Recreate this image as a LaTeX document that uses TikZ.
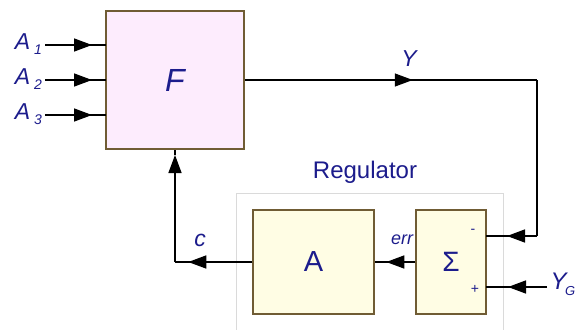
\documentclass[tikz,border=0pt]{standalone}
\usepackage{fontspec}
\setmainfont{Liberation Sans}
\usetikzlibrary{arrows.meta,decorations.markings}
\definecolor{txtblue}{RGB}{28,28,140}
\definecolor{boxedge}{RGB}{112,92,52}
\definecolor{pinkfill}{RGB}{253,236,253}
\definecolor{yellowfill}{RGB}{255,253,228}
\definecolor{regedge}{RGB}{218,218,218}
\newcommand{\fs}[1]{\fontsize{#1}{#1}\selectfont}
\tikzset{
  blockbox/.style={draw=boxedge, line width=1.5pt, inner sep=0pt, text=txtblue},
  lbl/.style={text=txtblue, inner sep=0pt},
  wire/.style={line width=1.5pt, postaction={decorate}},
  tipat/.style={decoration={markings, mark=at position #1 with {\arrow{Triangle[length=18pt,width=13pt]}}}},
}
\begin{document}
\begin{tikzpicture}[x=1pt,y=-1pt]
\useasboundingbox (0,0) rectangle (575,329);
\fill[white] (0,0) rectangle (575,329);

% regulator frame
\draw[regedge, line width=1pt] (236,345) -- (236,193) -- (503,193) -- (503,345);
\node[lbl, font=\fs{24}] (reglbl) at (365,172) {Regulator};

% blocks
\node[blockbox, fill=pinkfill, minimum width=138pt, minimum height=138pt, font=\fs{32}\itshape] (F) at (175,80) {F};
\node[blockbox, fill=yellowfill, minimum width=121pt, minimum height=104pt, font=\fs{29}] (A) at (313.5,262) {A};
\node[blockbox, fill=yellowfill, minimum width=70pt, minimum height=104pt, font=\fs{28}] (S) at (451,262) {Σ};
\node[lbl, font=\fs{14}] (minus) at (473,231) {-};
\node[lbl, font=\fs{14}] (plus) at (475,289) {+};

% inputs of F
\foreach \i/\y in {1/45,2/80,3/115}{
  \coordinate (in\i) at (45,\y);
  \coordinate (fin\i) at (106,\y);
  \node[lbl, anchor=east, font=\fs{23}\itshape] (a\i) at (42,\y-1) {A\,\raisebox{-5pt}{\fs{14}\i}};
  \draw[wire, tipat=47pt] (in\i) -- (fin\i);
}

% output Y fed back to the comparator
\coordinate (yc) at (537,80);
\coordinate (mc) at (537,236);
\coordinate (sminus) at (486,236);
\draw[wire, tipat=168pt] (F.east) -- (yc);
\draw[line width=1.5pt] (yc) -- (mc);
\draw[wire, tipat=30pt] (mc) -- (sminus);
\node[lbl, font=\fs{23}\itshape] (ylbl) at (409,59) {Y};

% reference input
\coordinate (yg) at (547,287);
\coordinate (splus) at (486,287);
\draw[wire, tipat=39pt] (yg) -- (splus);
\node[lbl, anchor=west, font=\fs{24}\itshape] (yglbl) at (550.5,284) {Y\kern-1.5pt\raisebox{-6pt}{\fs{13}G}};

% error signal
\draw[wire, tipat=29pt] (S.west) -- (A.east);
\node[lbl, font=\fs{18}\itshape] (errlbl) at (402,240) {err};

% control signal back to F
\coordinate (cc) at (175,262);
\coordinate (fbot) at (175,155);
\draw[wire, tipat=64pt] (A.west) -- (cc);
\draw[line width=1.5pt] (fbot) -- (F.south -| fbot);
\draw[line width=1.5pt, -{Triangle[length=18pt,width=13pt]}] (cc) -- (fbot);
\node[lbl, font=\fs{23}\itshape] (clbl) at (200,240) {c};
\end{tikzpicture}
\end{document}
